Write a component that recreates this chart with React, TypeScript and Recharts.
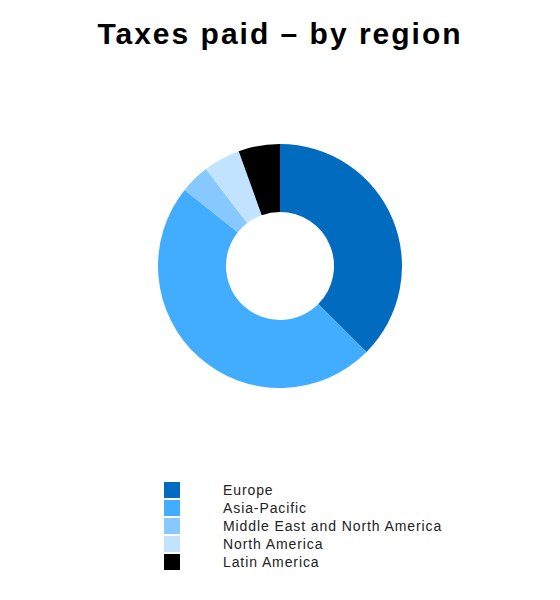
import { PieChart, Pie, Cell, Legend } from 'recharts';

const regions = ['Europe', 'Asia-Pacific', 'Middle East and North America', 'North America', 'Latin America'];
const shares = [37.5, 48.3, 3.9, 4.9, 5.5];
const colors = ['#006bbf', '#42adff', '#87c8ff', '#c2e3ff', '#000000'];

const data = regions.map((name, i) => ({ name, value: shares[i] }));

const font = '"Liberation Sans", Arial, Helvetica, sans-serif';

const renderLegend = () => (
  <div style={{ fontFamily: font }}>
    {regions.map((name, i) => (
      <div key={name} style={{ display: 'flex', alignItems: 'center', height: 18 }}>
        <span style={{ width: 16, height: 16, background: colors[i], display: 'inline-block' }} />
        <span style={{ marginLeft: 43, fontSize: 14, letterSpacing: 0.9, color: '#222' }}>{name}</span>
      </div>
    ))}
  </div>
);

function App() {
  return (
    <div style={{ position: 'absolute', left: 0, top: 0, width: 560, height: 600, background: '#fff' }}>
      <div
        style={{
          position: 'absolute',
          top: 17,
          left: 0,
          width: 560,
          textAlign: 'center',
          fontFamily: font,
          fontWeight: 'bold',
          fontSize: 30,
          letterSpacing: 2,
          color: '#000',
        }}
      >
        Taxes paid – by region
      </div>
      <PieChart width={560} height={600} margin={{ top: 0, right: 0, bottom: 0, left: 0 }}>
        <Pie
          data={data}
          dataKey="value"
          nameKey="name"
          cx={280}
          cy={266}
          innerRadius={54}
          outerRadius={122}
          startAngle={90}
          endAngle={-270}
          stroke="none"
          isAnimationActive={false}
        >
          {data.map((d, i) => (
            <Cell key={d.name} fill={colors[i]} />
          ))}
        </Pie>
        <Legend
          content={renderLegend}
          layout="vertical"
          wrapperStyle={{ left: 164, top: 481, width: 340 }}
        />
      </PieChart>
    </div>
  );
}

export default App;
